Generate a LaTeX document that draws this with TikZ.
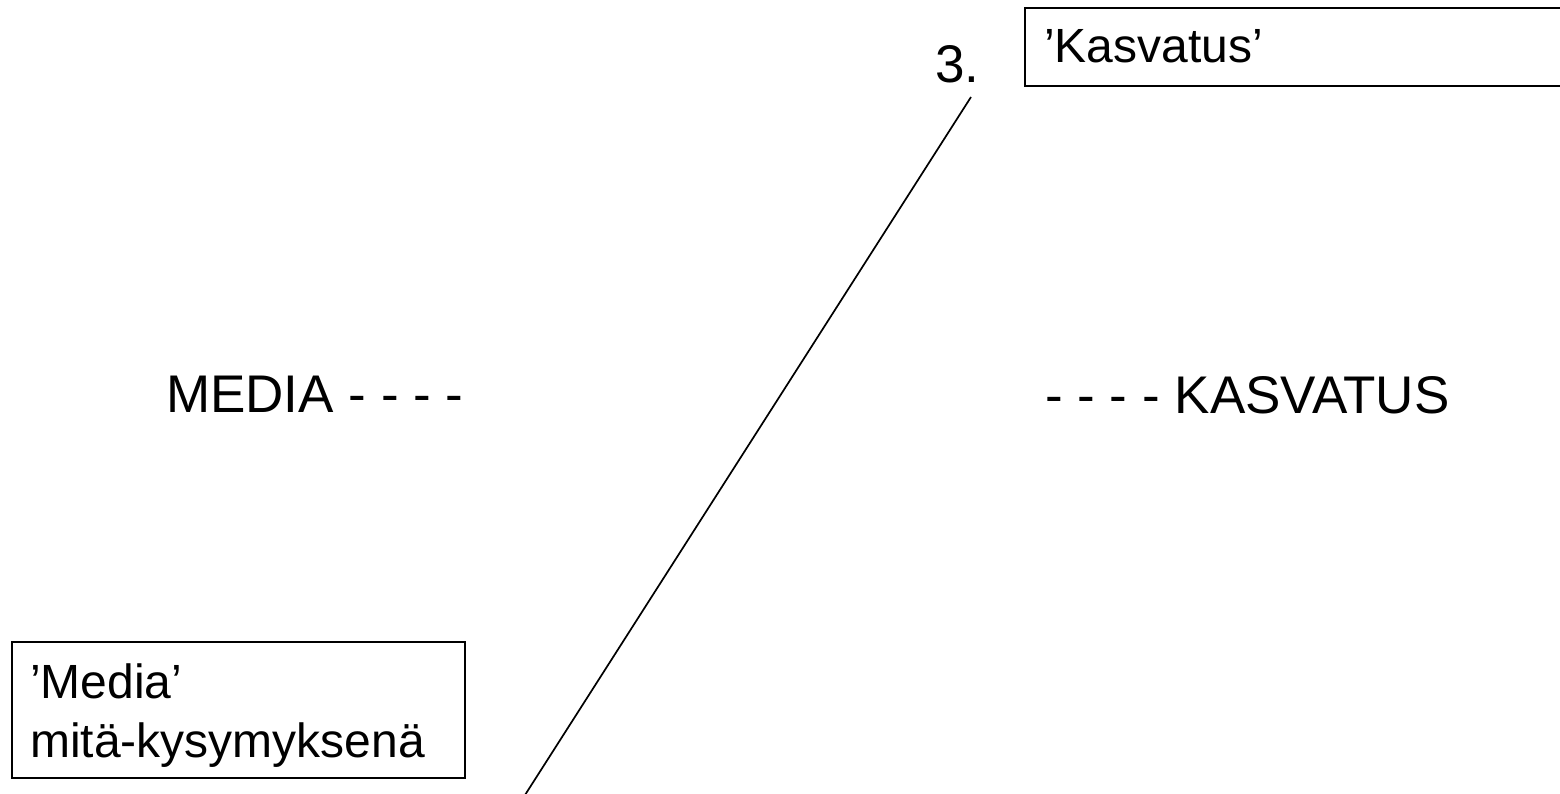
\documentclass[tikz,border=0pt]{standalone}
\usepackage{fontspec}
\setmainfont{Liberation Sans}
\begin{document}
\begin{tikzpicture}[x=1pt,y=1pt,
  big/.style={font=\fontsize{53}{64}\selectfont, inner sep=0pt, anchor=base west},
  small/.style={font=\fontsize{48}{59}\selectfont, inner sep=0pt, anchor=base west},
  framebox/.style={draw=black, line width=1.8pt, inner sep=0pt, anchor=north west},
  slash/.style={draw=black, line width=1.7pt}]
\clip (0,0) rectangle (1560,793);
\fill[white] (0,0) rectangle (1560,793);
% top-right box
\node[framebox, minimum width=600pt, minimum height=78pt] (kbox) at (1024,786) {};
\node[small] (ktext) at (1044,730) {’Kasvatus’};
\node[big] (three) at (935,710) {3.};
% bottom-left box
\node[framebox, minimum width=453pt, minimum height=136pt] (mbox) at (11,152) {};
\node[small] (mtext1) at (30,95) {’Media’};
\node[small] (mtext2) at (30,36) {mitä-kysymyksenä};
% middle labels
\node[big] (media) at (166,380) {MEDIA - - - -};
\node[big] (kasv) at (1045,379) {- - - - KASVATUS};
% diagonal line
\coordinate (lbot) at (525,-2);
\coordinate (ltop) at (971,696);
\draw[slash] (lbot) -- (ltop);
\end{tikzpicture}
\end{document}
